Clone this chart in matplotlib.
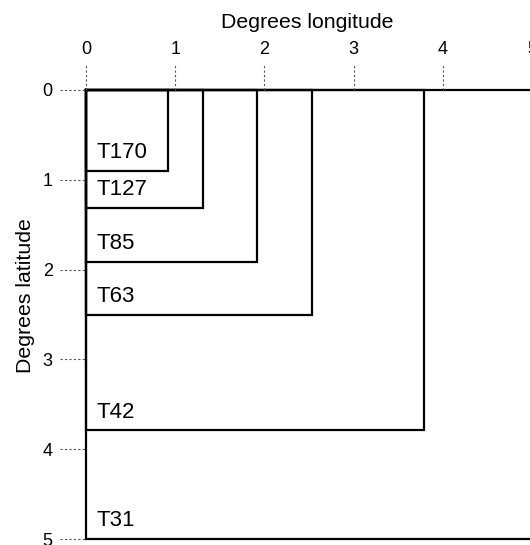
import matplotlib.pyplot as plt
from matplotlib.transforms import blended_transform_factory

plt.rcParams['font.family'] = ['Liberation Sans', 'DejaVu Sans']

# Gaussian grid box size (degrees) for each spectral truncation
labels = ['T170', 'T127', 'T85', 'T63', 'T42', 'T31']
box_lon = [0.92, 1.31, 1.92, 2.53, 3.79, 5.0]
box_lat = [0.90, 1.31, 1.91, 2.50, 3.79, 5.0]
ticks = [0, 1, 2, 3, 4, 5]

fig = plt.figure(figsize=(5.3, 5.45), dpi=100)
ax = fig.add_axes([86 / 530, 6 / 545, 446 / 530, 449 / 545])

for name, w, h in zip(labels, box_lon, box_lat):
    ax.plot([0, w, w, 0, 0], [0, 0, h, h, 0], color='black', lw=1.6,
            solid_joinstyle='miter', clip_on=False)
    ax.text(0.12, h - 0.14, name, fontsize=16, va='baseline', ha='left')

ax.set_xlim(0, 5)
ax.set_ylim(5, 0)
for s in ax.spines.values():
    s.set_visible(False)

ax.xaxis.tick_top()
ax.xaxis.set_label_position('top')
ax.set_xticks(ticks)
ax.set_yticks(ticks)
ax.tick_params(length=0, labelsize=13)
ax.tick_params(axis='x', pad=23)
ax.tick_params(axis='y', pad=24)
ax.set_xlabel('Degrees longitude', fontsize=15.3, labelpad=7)
ax.set_ylabel('Degrees latitude', fontsize=15.3)
ax.xaxis.set_label_coords(0.495, 1.0 + 62 / 449)
ax.yaxis.set_label_coords(-0.115, 0.543)

# dashed tick lines pointing outward
tx = blended_transform_factory(ax.transData, ax.transAxes)
ty = blended_transform_factory(ax.transAxes, ax.transData)
for t in ticks:
    ax.plot([t, t], [1.0, 1.055], transform=tx, color='#555555', lw=0.8,
            ls=(0, (2, 2)), clip_on=False)
    ax.plot([-0.058, 0.0], [t, t], transform=ty, color='#555555', lw=0.8,
            ls=(0, (2, 2)), clip_on=False)

fig.savefig('out.png', dpi=100)
